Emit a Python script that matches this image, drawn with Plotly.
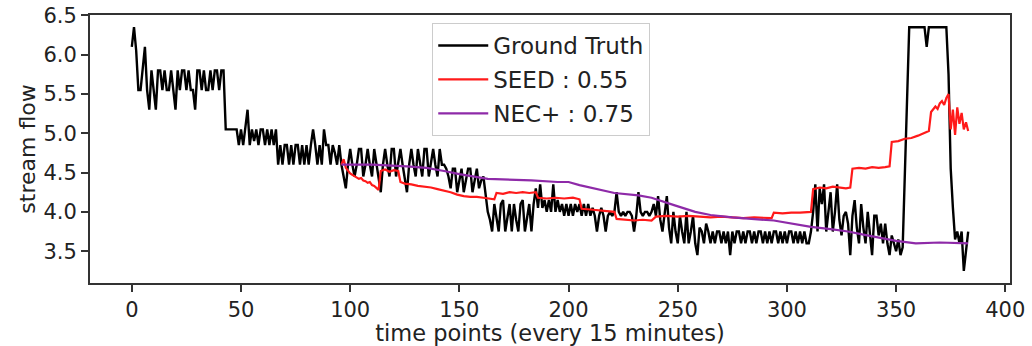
import plotly.graph_objects as go

# Ground truth stream flow, one value per 15-minute time point (0..383)
gt_part_a = [6.1, 6.35, 6.05, 5.55, 5.55, 5.8, 6.1, 5.55, 5.3, 5.8,
             5.55, 5.3, 5.8, 5.8, 5.55, 5.8, 5.55, 5.55, 5.8, 5.55,
             5.3, 5.8, 5.55, 5.8, 5.8, 5.55, 5.8, 5.55, 5.55, 5.3,
             5.8, 5.8, 5.55, 5.8, 5.55, 5.55, 5.8, 5.55, 5.8, 5.8,
             5.55, 5.8, 5.8]
gt_part_b = [5.05, 5.05, 5.05, 5.05, 5.05, 5.05, 4.85, 5.05, 4.85, 5.05,
             5.3, 4.85, 5.05, 4.9, 5.05, 4.85, 5.05, 5.05, 4.85, 5.05,
             4.85, 5.05, 4.85, 5.05]
gt_part_c = [4.6, 4.85, 4.6, 4.85, 4.85, 4.6, 4.85, 4.6, 4.85, 4.85,
             4.6, 4.85, 4.6, 4.85, 4.6, 4.85, 5.05, 4.85, 4.6, 4.85,
             4.6, 5.05, 4.85, 4.85, 4.6, 4.85, 4.75, 4.6, 4.85, 4.6]
gt_part_d = [4.45, 4.3, 4.6, 4.8, 4.6, 4.45, 4.6, 4.8, 4.8, 4.45,
             4.6, 4.8, 4.6, 4.45, 4.8, 4.6, 4.45, 4.25, 4.6, 4.8,
             4.6, 4.45, 4.8, 4.8, 4.45, 4.6, 4.8, 4.6, 4.45, 4.25,
             4.6, 4.8, 4.6, 4.45, 4.8, 4.6, 4.45, 4.8, 4.8, 4.45,
             4.6, 4.8, 4.6, 4.45, 4.8, 4.6, 4.6, 4.55, 4.45]
gt_part_e = [4.3, 4.55, 4.55, 4.25, 4.4, 4.55, 4.25, 4.4, 4.55, 4.55,
             4.25, 4.4, 4.55, 4.3, 4.4, 4.45, 4.2, 4.0]
gt_part_f = [3.9, 3.75, 4.1, 3.9, 3.75, 4.1, 4.15, 3.75, 3.9, 4.1,
             3.75, 4.1, 3.9, 3.75, 4.1, 4.15, 3.75, 3.9, 4.1, 3.75,
             4.1, 4.3]
gt_part_g = [4.05, 4.35, 4.05, 4.15, 4.0, 4.15, 4.0, 4.35, 4.0, 4.15,
             4.0, 4.1, 3.95, 4.1, 3.95, 4.1, 3.95, 4.1, 4.0, 4.1,
             3.95, 4.1, 3.95, 4.1, 3.95, 4.05, 3.95, 3.75, 3.95, 4.05,
             3.95, 3.75, 3.95, 4.0, 3.95, 4.0, 4.25, 4.0, 3.95, 4.0,
             3.95, 4.0, 4.0, 3.95, 3.75, 3.95, 4.25, 4.0, 3.95, 4.0,
             4.0, 3.95, 4.0, 4.1, 3.95, 4.2, 3.9, 3.75, 4.0, 4.2]
gt_part_h = [3.8, 3.6, 4.0, 3.75, 3.6, 3.95, 3.75, 3.6, 4.0, 3.6,
             3.75, 3.95, 3.6, 3.45, 3.8, 3.75, 3.6, 3.85, 3.75]
gt_part_i = [3.6, 3.75, 3.6, 3.75, 3.75, 3.6, 3.75, 3.6, 3.75, 3.45,
             3.75, 3.6, 3.75, 3.75, 3.6, 3.75, 3.6, 3.75, 3.75, 3.6,
             3.75, 3.6, 3.75, 3.75, 3.6, 3.75, 3.6, 3.75, 3.6, 3.75,
             3.75, 3.6, 3.75, 3.6, 3.75, 3.6, 3.75, 3.75, 3.6, 3.75,
             3.6, 3.75, 3.6, 3.75, 3.6, 3.6, 3.75]
gt_part_j = [4.0, 4.35, 3.75, 4.3, 4.1, 4.35, 3.75, 4.0, 4.25, 3.75,
             4.0, 4.35, 3.9, 3.7, 3.95, 4.0, 3.85, 3.45, 3.95, 4.15,
             3.8, 3.6, 4.1, 3.8, 3.6, 4.0, 3.75, 3.45, 3.95, 3.95,
             3.7, 3.85, 3.6, 3.85, 3.6, 3.45, 3.7, 3.6, 3.5, 3.65,
             3.45, 3.55]
gt_part_k = [4.5, 5.45, 6.35, 6.35, 6.35, 6.35, 6.35, 6.35, 6.35, 6.35,
             6.1, 6.35, 6.35, 6.35, 6.35, 6.35, 6.35, 6.35, 6.35, 6.35,
             5.75, 4.55, 4.05, 3.65, 3.75, 3.6, 3.75, 3.25, 3.5, 3.75]

ground_truth = (gt_part_a + gt_part_b + gt_part_c + gt_part_d + gt_part_e +
                gt_part_f + gt_part_g + gt_part_h + gt_part_i + gt_part_j +
                gt_part_k)
gt_time = list(range(len(ground_truth)))

# SEED predictions (time point, value)
seed_t = [96, 97, 98, 99, 100, 101, 102, 103, 104, 105, 106, 107, 108, 109,
          110, 111, 112, 113, 114, 116, 118, 120, 122, 123, 125, 128, 131,
          134, 137, 140, 143, 146, 149, 152, 155, 158, 161, 164, 166, 167,
          170, 173, 176, 179, 182, 185, 186, 190, 194, 198, 202, 205, 206,
          210, 214, 218, 221, 222, 226, 230, 234, 238, 240, 245, 250, 255,
          260, 265, 270, 275, 280, 285, 290, 293, 294, 298, 302, 306, 311,
          312, 315, 318, 321, 324, 327, 329, 330, 333, 336, 339, 342, 345,
          347, 348, 351, 354, 357, 360, 363, 365, 366, 367, 368, 369, 370,
          371, 372, 373, 374, 375, 376, 377, 378, 379, 380, 381, 382, 383]
seed_v = [4.60, 4.67, 4.56, 4.52, 4.49, 4.47, 4.45, 4.44, 4.42, 4.43, 4.40,
          4.39, 4.37, 4.38, 4.34, 4.33, 4.30, 4.28, 4.52, 4.54, 4.51, 4.53,
          4.52, 4.38, 4.36, 4.35, 4.33, 4.32, 4.31, 4.29, 4.27, 4.25, 4.22,
          4.20, 4.19, 4.19, 4.18, 4.17, 4.16, 4.24, 4.23, 4.25, 4.24, 4.25,
          4.24, 4.25, 4.18, 4.17, 4.18, 4.17, 4.18, 4.16, 4.04, 4.03, 4.02,
          4.01, 4.00, 3.91, 3.90, 3.89, 3.90, 3.89, 3.94, 3.95, 3.94, 3.95,
          3.94, 3.93, 3.94, 3.93, 3.92, 3.93, 3.92, 3.92, 3.99, 3.98, 3.99,
          3.99, 4.00, 4.29, 4.31, 4.30, 4.32, 4.31, 4.30, 4.31, 4.55, 4.56,
          4.55, 4.57, 4.56, 4.57, 4.58, 4.89, 4.90, 4.93, 4.94, 4.97, 5.00,
          5.03, 5.27, 5.30, 5.34, 5.31, 5.38, 5.41, 5.36, 5.45, 5.50, 5.05,
          5.30, 4.98, 5.33, 5.12, 5.26, 5.05, 5.14, 5.03]

# NEC+ predictions (time point, value)
nec_t = [96, 110, 126, 135, 143, 150, 163, 175, 183, 195, 200, 205, 212,
         221, 232, 238, 249, 258, 265, 275, 294, 311, 320, 328, 335, 341,
         350, 359, 370, 383]
nec_v = [4.60, 4.60, 4.58, 4.56, 4.52, 4.48, 4.42, 4.41, 4.40, 4.38, 4.38,
         4.34, 4.30, 4.24, 4.21, 4.18, 4.08, 4.00, 3.96, 3.93, 3.89, 3.81,
         3.78, 3.75, 3.71, 3.68, 3.63, 3.60, 3.61, 3.60]

x_ticks = [0, 50, 100, 150, 200, 250, 300, 350, 400]
y_ticks = [3.5, 4.0, 4.5, 5.0, 5.5, 6.0, 6.5]

FONT = "DejaVu Sans"
AXIS_COLOR = "#333333"
TEXT_COLOR = "#222222"

fig = go.Figure()
fig.add_trace(go.Scatter(x=gt_time, y=ground_truth, mode="lines",
                         name="Ground Truth", legendgroup="g1",
                         line=dict(color="black", width=2.4)))
fig.add_trace(go.Scatter(x=seed_t, y=seed_v, mode="lines",
                         name="SEED : 0.55", legendgroup="g2",
                         line=dict(color="#ff1a1a", width=2.2)))
fig.add_trace(go.Scatter(x=nec_t, y=nec_v, mode="lines",
                         name="NEC+ : 0.75", legendgroup="g3",
                         line=dict(color="#8e2aa8", width=2.2)))

axis_common = dict(
    showline=True, linecolor=AXIS_COLOR, linewidth=1.8, mirror=True,
    ticks="outside", ticklen=7, tickwidth=1.8, tickcolor=AXIS_COLOR,
    showgrid=False, zeroline=False, automargin=False,
    tickfont=dict(family=FONT, size=21, color=TEXT_COLOR),
)

fig.update_layout(
    width=1032, height=346, autosize=False,
    margin=dict(l=90, r=22, t=15, b=63),
    paper_bgcolor="white", plot_bgcolor="white",
    font=dict(family=FONT, size=21, color=TEXT_COLOR),
    xaxis=dict(range=[-19.15, 402.15], tickvals=x_ticks,
               title=dict(text="time points (every 15 minutes)",
                          font=dict(family=FONT, size=22.5), standoff=8),
               **axis_common),
    yaxis=dict(range=[3.095, 6.505], tickvals=y_ticks, tickformat=".1f",
               title=dict(text="stream flow",
                          font=dict(family=FONT, size=22), standoff=2),
               **axis_common),
    legend=dict(x=0.372, y=0.97, xanchor="left", yanchor="top",
                bgcolor="rgba(255,255,255,0.9)", bordercolor="#cccccc",
                borderwidth=1, tracegroupgap=1, itemwidth=50,
                font=dict(family=FONT, size=23, color=TEXT_COLOR)),
    showlegend=True,
)

fig.write_html("out.html")
